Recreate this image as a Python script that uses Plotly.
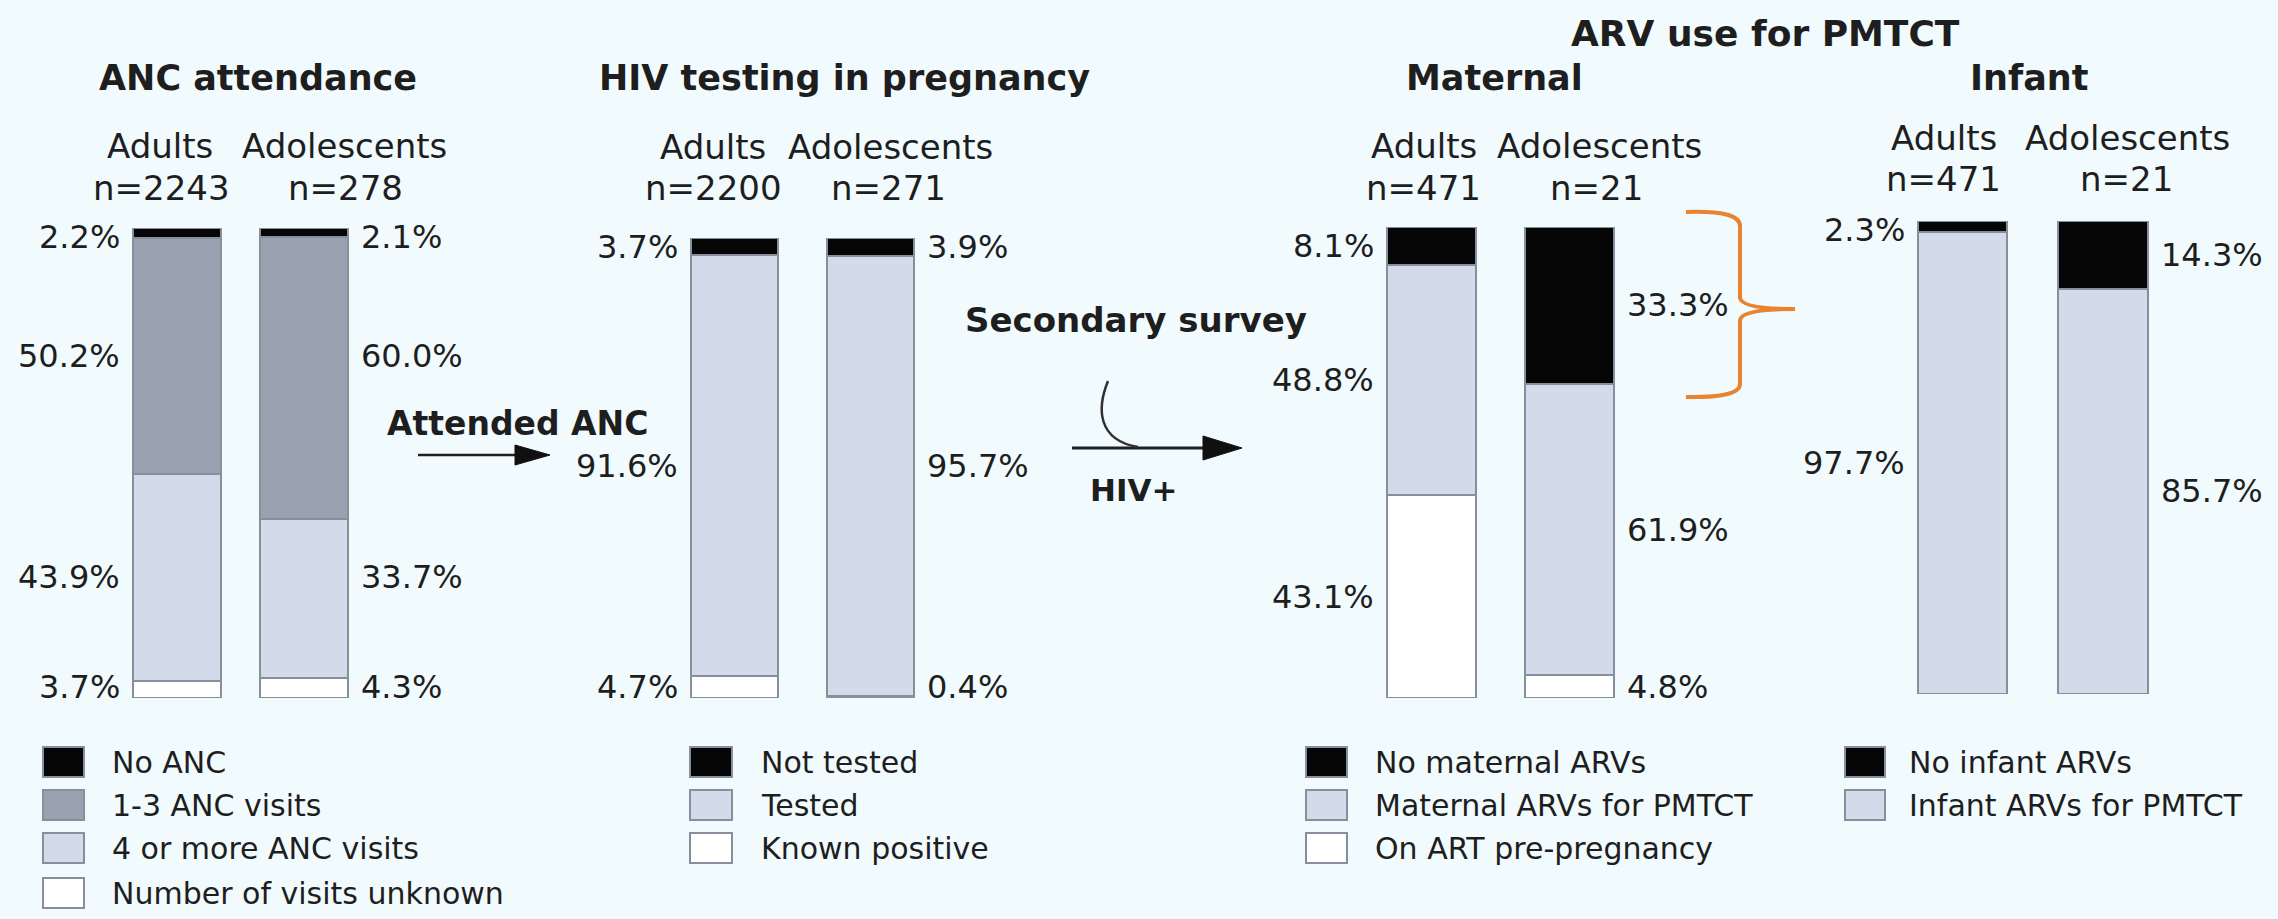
import plotly.graph_objects as go

# ---------------- data ----------------
groups = ["Adults", "Adolescents"]

anc_n = [2243, 278]
anc_none = [2.2, 2.1]
anc_1to3 = [50.2, 60.0]
anc_4plus = [43.9, 33.7]
anc_unknown = [3.7, 4.3]
anc_labels = ["No ANC", "1-3 ANC visits", "4 or more ANC visits", "Number of visits unknown"]

hiv_n = [2200, 271]
hiv_not_tested = [3.7, 3.9]
hiv_tested = [91.6, 95.7]
hiv_known_pos = [4.7, 0.4]
hiv_labels = ["Not tested", "Tested", "Known positive"]

mat_n = [471, 21]
mat_none = [8.1, 33.3]
mat_pmtct = [48.8, 61.9]
mat_on_art = [43.1, 4.8]
mat_labels = ["No maternal ARVs", "Maternal ARVs for PMTCT", "On ART pre-pregnancy"]

inf_n = [471, 21]
inf_none = [2.3, 14.3]
inf_pmtct = [97.7, 85.7]
inf_labels = ["No infant ARVs", "Infant ARVs for PMTCT"]

titles = ["ANC attendance", "HIV testing in pregnancy", "Maternal", "Infant"]
super_title = "ARV use for PMTCT"

# ---------------- style ----------------
W, H = 2278, 919
BG = "#F1FAFD"
BLACK = "#060606"
DARK = "#9AA2B2"
LIGHT = "#D3DBEA"
WHITE = "#FFFFFF"
EDGE = "#888F9C"
ORANGE = "#E8832F"
TXT = "#1E1E1E"
FONT = "DejaVu Sans"


def X(px):
    return px / W


def Y(py):
    return 1 - py / H


panels = [
    dict(xdom=(113.5, 367.5), ytop=228, ybot=698, bw=0.70, shared_rows=True,
         series=[(anc_unknown, WHITE), (anc_4plus, LIGHT), (anc_1to3, DARK), (anc_none, BLACK)],
         names=anc_labels, n=anc_n,
         head_x=[(160, 161), (344, 345)], head_y=(146, 188),
         title=(titles[0], 258, 78),
         leg=dict(sx=(43, 84), tx=110, ys=[762, 805, 848, 893])),
    dict(xdom=(666.5, 938.5), ytop=238, ybot=698, bw=0.64, shared_rows=True,
         series=[(hiv_known_pos, WHITE), (hiv_tested, LIGHT), (hiv_not_tested, BLACK)],
         names=hiv_labels, n=hiv_n,
         head_x=[(713, 713), (890, 888)], head_y=(147, 188),
         title=(titles[1], 844, 78),
         leg=dict(sx=(690, 732), tx=759, ys=[762, 805, 848])),
    dict(xdom=(1362.5, 1638.5), ytop=227, ybot=698, bw=0.645, shared_rows=False,
         series=[(mat_on_art, WHITE), (mat_pmtct, LIGHT), (mat_none, BLACK)],
         names=mat_labels, n=mat_n,
         head_x=[(1424, 1423), (1599, 1597)], head_y=(146, 188),
         title=(titles[2], 1494, 78),
         leg=dict(sx=(1306, 1347), tx=1373, ys=[762, 805, 848])),
    dict(xdom=(1892.25, 2173.25), ytop=221, ybot=694, bw=0.637, shared_rows=False,
         series=[(inf_pmtct, LIGHT), (inf_none, BLACK)],
         names=inf_labels, n=inf_n,
         head_x=[(1944, 1943), (2127, 2126)], head_y=(138, 179),
         title=(titles[3], 2029, 78),
         leg=dict(sx=(1845, 1885), tx=1907, ys=[762, 805])),
]

fig = go.Figure()
annotations = []
shapes = []
layout_axes = {}


def txt(text, x, y, size, bold=False, xanchor="center"):
    annotations.append(dict(
        text=f"<b>{text}</b>" if bold else text,
        x=X(x), y=Y(y), xref="paper", yref="paper",
        xanchor=xanchor, yanchor="middle", showarrow=False,
        font=dict(family=FONT, size=size, color=TXT)))


def label_rows(series, gi):
    rows = []
    cum = 0.0
    for vals, _ in series:
        v = vals[gi]
        rows.append(min(max(cum + v / 2, 2.3), 98.0))
        cum += v
    return rows


for i, p in enumerate(panels):
    sfx = "" if i == 0 else str(i + 1)
    xa, ya = "x" + sfx, "y" + sfx
    names_bottom_up = list(reversed(p["names"]))
    for (vals, color), name in zip(p["series"], names_bottom_up):
        fig.add_trace(go.Bar(
            x=groups, y=vals, name=name, width=p["bw"],
            marker=dict(color=color, line=dict(color=EDGE, width=2)),
            xaxis=xa, yaxis=ya, showlegend=False, hoverinfo="skip"))
    layout_axes["xaxis" + sfx] = dict(
        domain=[X(p["xdom"][0]), X(p["xdom"][1])], anchor=ya,
        type="category", categoryorder="array", categoryarray=groups,
        range=[-0.5, 1.5], visible=False, fixedrange=True)
    layout_axes["yaxis" + sfx] = dict(
        domain=[Y(p["ybot"]), Y(p["ytop"])], anchor=xa,
        range=[0, 100], visible=False, fixedrange=True)

    # percentage labels beside each segment
    for gi in range(len(groups)):
        rows = label_rows(p["series"], 0 if p["shared_rows"] else gi)
        left = gi == 0
        for (vals, _), yl in zip(p["series"], rows):
            v = vals[gi]
            annotations.append(dict(
                text=f"{v:.1f}%", xref=xa, yref=ya,
                x=(-p["bw"] / 2) if left else (1 + p["bw"] / 2), y=yl,
                xanchor="right" if left else "left", yanchor="middle",
                xshift=-11 if left else 11, showarrow=False,
                font=dict(family=FONT, size=32, color=TXT)))

    # headers
    for gi, g in enumerate(groups):
        txt(g, p["head_x"][gi][0], p["head_y"][0], 34)
        txt(f"n={p['n'][gi]}", p["head_x"][gi][1], p["head_y"][1], 34)
    t, tx, ty = p["title"]
    txt(t, tx, ty, 35, bold=True)

    # legend swatches + labels (top to bottom: reverse of stacking order)
    lg = p["leg"]
    colors_top_down = [c for _, c in reversed(p["series"])]
    for name, color, yc in zip(p["names"], colors_top_down, lg["ys"]):
        shapes.append(dict(type="rect", xref="paper", yref="paper",
                           x0=X(lg["sx"][0]), x1=X(lg["sx"][1]),
                           y0=Y(yc + 15), y1=Y(yc - 15),
                           fillcolor=color, line=dict(color=EDGE, width=2)))
        txt(name, lg["tx"], yc, 30, xanchor="left")

# extra texts
txt(super_title, 1765, 33, 36, bold=True)
txt("Secondary survey", 1136, 320, 34, bold=True)
txt("Attended ANC", 517, 423, 33, bold=True)
txt("HIV+", 1133, 490, 31, bold=True)


# arrows
def hline(x0, x1, y, w):
    shapes.append(dict(type="line", xref="paper", yref="paper",
                       x0=X(x0), x1=X(x1), y0=Y(y), y1=Y(y),
                       line=dict(color="#202020", width=w)))


def tri(xb, xt, y, hh):
    shapes.append(dict(type="path", xref="paper", yref="paper",
                       path=f"M {X(xb)} {Y(y - hh)} L {X(xt)} {Y(y)} L {X(xb)} {Y(y + hh)} Z",
                       fillcolor="#101010", line=dict(color="#101010", width=1)))


hline(418, 520, 455, 2.5)
tri(515, 550, 455, 10)
hline(1072, 1210, 448, 3)
tri(1203, 1242, 448, 12)
# curved joining arrow
shapes.append(dict(type="path", xref="paper", yref="paper",
                   path=(f"M {X(1108)} {Y(381)} C {X(1097)} {Y(408)}, {X(1097)} {Y(440)}, "
                         f"{X(1138)} {Y(447)}"),
                   line=dict(color="#303030", width=2.5)))

# orange brace
bp = [(1686, 212), (1740, 210), (1740, 226), (1740, 298), (1742, 309), (1795, 309),
      (1742, 309), (1740, 320), (1740, 384), (1740, 398), (1686, 397)]
brace = (f"M {X(bp[0][0])} {Y(bp[0][1])} Q {X(bp[1][0])} {Y(bp[1][1])} {X(bp[2][0])} {Y(bp[2][1])} "
         f"L {X(bp[3][0])} {Y(bp[3][1])} Q {X(bp[4][0])} {Y(bp[4][1])} {X(bp[5][0])} {Y(bp[5][1])} "
         f"Q {X(bp[6][0])} {Y(bp[6][1])} {X(bp[7][0])} {Y(bp[7][1])} "
         f"L {X(bp[8][0])} {Y(bp[8][1])} Q {X(bp[9][0])} {Y(bp[9][1])} {X(bp[10][0])} {Y(bp[10][1])}")
shapes.append(dict(type="path", xref="paper", yref="paper", path=brace,
                   line=dict(color=ORANGE, width=4)))

fig.update_layout(
    width=W, height=H, autosize=False,
    margin=dict(l=0, r=0, t=0, b=0, pad=0),
    paper_bgcolor=BG, plot_bgcolor="rgba(0,0,0,0)",
    barmode="stack", showlegend=False,
    annotations=annotations, shapes=shapes,
    **layout_axes)

fig.write_html("out.html", config=dict(displayModeBar=False),
               post_script="document.body.style.margin='0';document.body.style.background='#F1FAFD';")
